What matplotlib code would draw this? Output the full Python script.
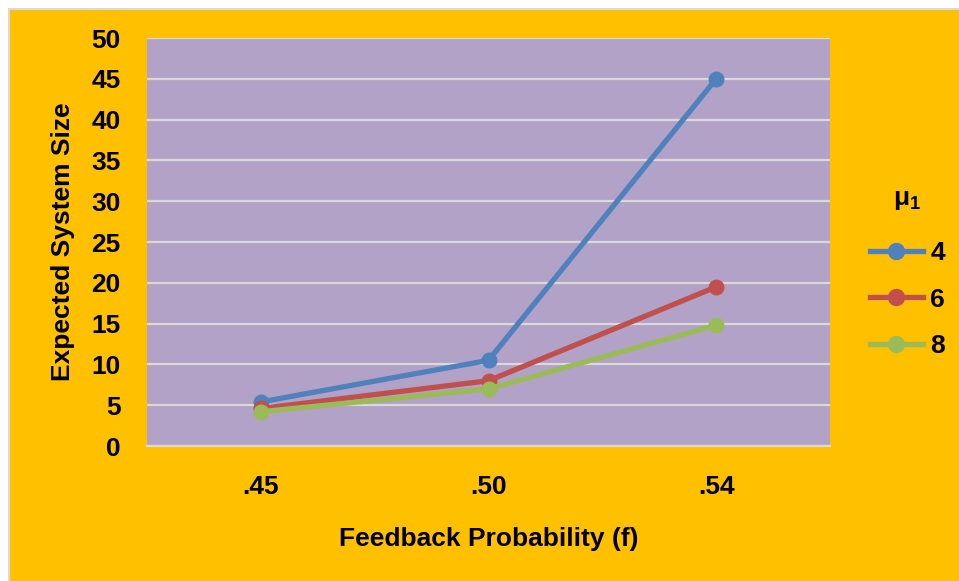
import matplotlib.pyplot as plt
from matplotlib.patches import Rectangle
from matplotlib.lines import Line2D

plt.rcParams['font.family'] = ['Liberation Sans', 'DejaVu Sans']
plt.rcParams['font.weight'] = 'bold'
plt.rcParams['mathtext.fontset'] = 'custom'
plt.rcParams['mathtext.rm'] = 'Liberation Sans:bold'
plt.rcParams['mathtext.bf'] = 'Liberation Sans:bold'

# feedback probability categories and expected system size per mu_1
f_labels = [".45", ".50", ".54"]
mu_labels = ["4", "6", "8"]
size_mu4 = [5.4, 10.5, 45.0]
size_mu6 = [4.6, 8.0, 19.5]
size_mu8 = [4.2, 7.0, 14.8]
yticks = [0, 5, 10, 15, 20, 25, 30, 35, 40, 45, 50]

colors = ["#4F81BD", "#C0504D", "#9BBB59"]
FS = 19

W, H = 959, 581
fig = plt.figure(figsize=(W / 100, H / 100), dpi=100)
fig.patch.set_facecolor("white")

# orange chart area with a thin grey frame
fig.patches.append(Rectangle((8 / W, 0), 1, 1 - 8 / H, transform=fig.transFigure,
                             facecolor="#D9D9D9", edgecolor="none", zorder=-10))
fig.patches.append(Rectangle((10 / W, 0), 1, 1 - 10 / H, transform=fig.transFigure,
                             facecolor="#FFC000", edgecolor="none", zorder=-9))

left, right, top, bottom = 147, 830, 38, 446
ax = fig.add_axes([left / W, 1 - bottom / H, (right - left) / W, (bottom - top) / H])
ax.set_facecolor("#B3A2C7")

x = list(range(len(f_labels)))
series = [size_mu4, size_mu6, size_mu8]
for vals, c, lab in zip(series, colors, mu_labels):
    ax.plot(x, vals, color=c, lw=3.8, marker="o", ms=10.5, label=lab, zorder=3,
            solid_capstyle="round")

ax.set_xlim(-0.5, 2.5)
ax.set_ylim(0, 50)
ax.set_yticks(yticks)
ax.set_xticks(x)
ax.set_xticklabels(f_labels)
ax.grid(axis="y", color="#D9D9D9", lw=1.6)
ax.set_axisbelow(True)
for s in ["top", "right", "left"]:
    ax.spines[s].set_visible(False)
ax.spines["bottom"].set_color("#D9D9D9")
ax.spines["bottom"].set_linewidth(1.6)
ax.tick_params(axis="both", length=0, labelsize=FS)
ax.tick_params(axis="x", pad=21)
ax.tick_params(axis="y", pad=19)

ax.set_xlabel("Feedback Probability (f)", fontsize=FS, fontweight="bold", labelpad=20)
ax.set_ylabel("Expected System Size", fontsize=FS, fontweight="bold", labelpad=12)

handles = [Line2D([], [], color=c, lw=3.8, marker="o", ms=11.5) for c in colors]
leg = fig.legend(handles, mu_labels, title="μ$_\\mathbf{1}$", loc="center left",
                 bbox_to_anchor=(846 / W, 1 - 272 / H), frameon=False,
                 prop={"size": FS, "weight": "bold"}, handlelength=2.0,
                 handletextpad=0.3, labelspacing=0.85)
leg.get_title().set_fontsize(FS)
leg.get_title().set_fontweight("bold")
leg._legend_box.sep = 21

fig.savefig("out.png", dpi=100, facecolor=fig.get_facecolor())
